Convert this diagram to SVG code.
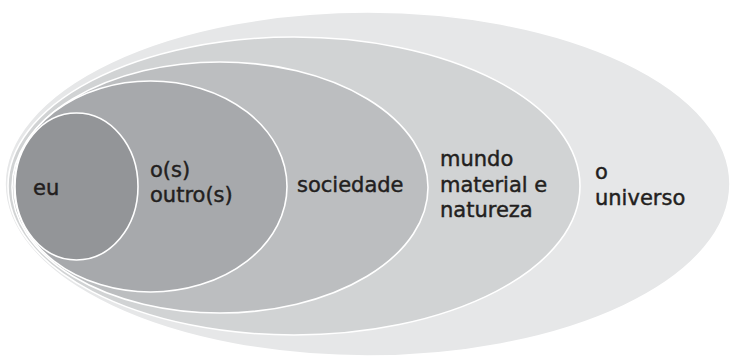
<svg xmlns="http://www.w3.org/2000/svg" width="733" height="358" viewBox="0 0 733 358">
<style>
.e{stroke:#ffffff;stroke-width:1.6}
.t{font-family:"DejaVu Sans",sans-serif;font-size:21px;fill:#231f20;stroke:#231f20;stroke-width:0.45}
</style>
<rect x="0" y="0" width="733" height="358" fill="#ffffff"/>
<g id="universo">
<ellipse class="e" cx="367.5" cy="184" rx="362.5" ry="172" fill="#e6e7e8"/>
<text class="t" x="595" y="179">o</text>
<text class="t" x="595" y="205">universo</text>
</g>
<g id="mundo">
<ellipse class="e" cx="294" cy="186" rx="286" ry="149" fill="#d1d3d4"/>
<text class="t" x="440" y="166">mundo</text>
<text class="t" x="440" y="192">material e</text>
<text class="t" x="440" y="217">natureza</text>
</g>
<g id="sociedade">
<ellipse class="e" cx="220" cy="187.5" rx="208" ry="125.5" fill="#bcbec0"/>
<text class="t" x="297" y="192">sociedade</text>
</g>
<g id="outros">
<ellipse class="e" cx="150.5" cy="186.5" rx="136.5" ry="105.5" fill="#a7a9ac"/>
<text class="t" x="150" y="177">o(s)</text>
<text class="t" x="150" y="202">outro(s)</text>
</g>
<g id="eu">
<ellipse class="e" cx="76.5" cy="186.5" rx="61.5" ry="73.5" fill="#939598"/>
<text class="t" x="33" y="195">eu</text>
</g>
<g id="connectors"></g>
</svg>
